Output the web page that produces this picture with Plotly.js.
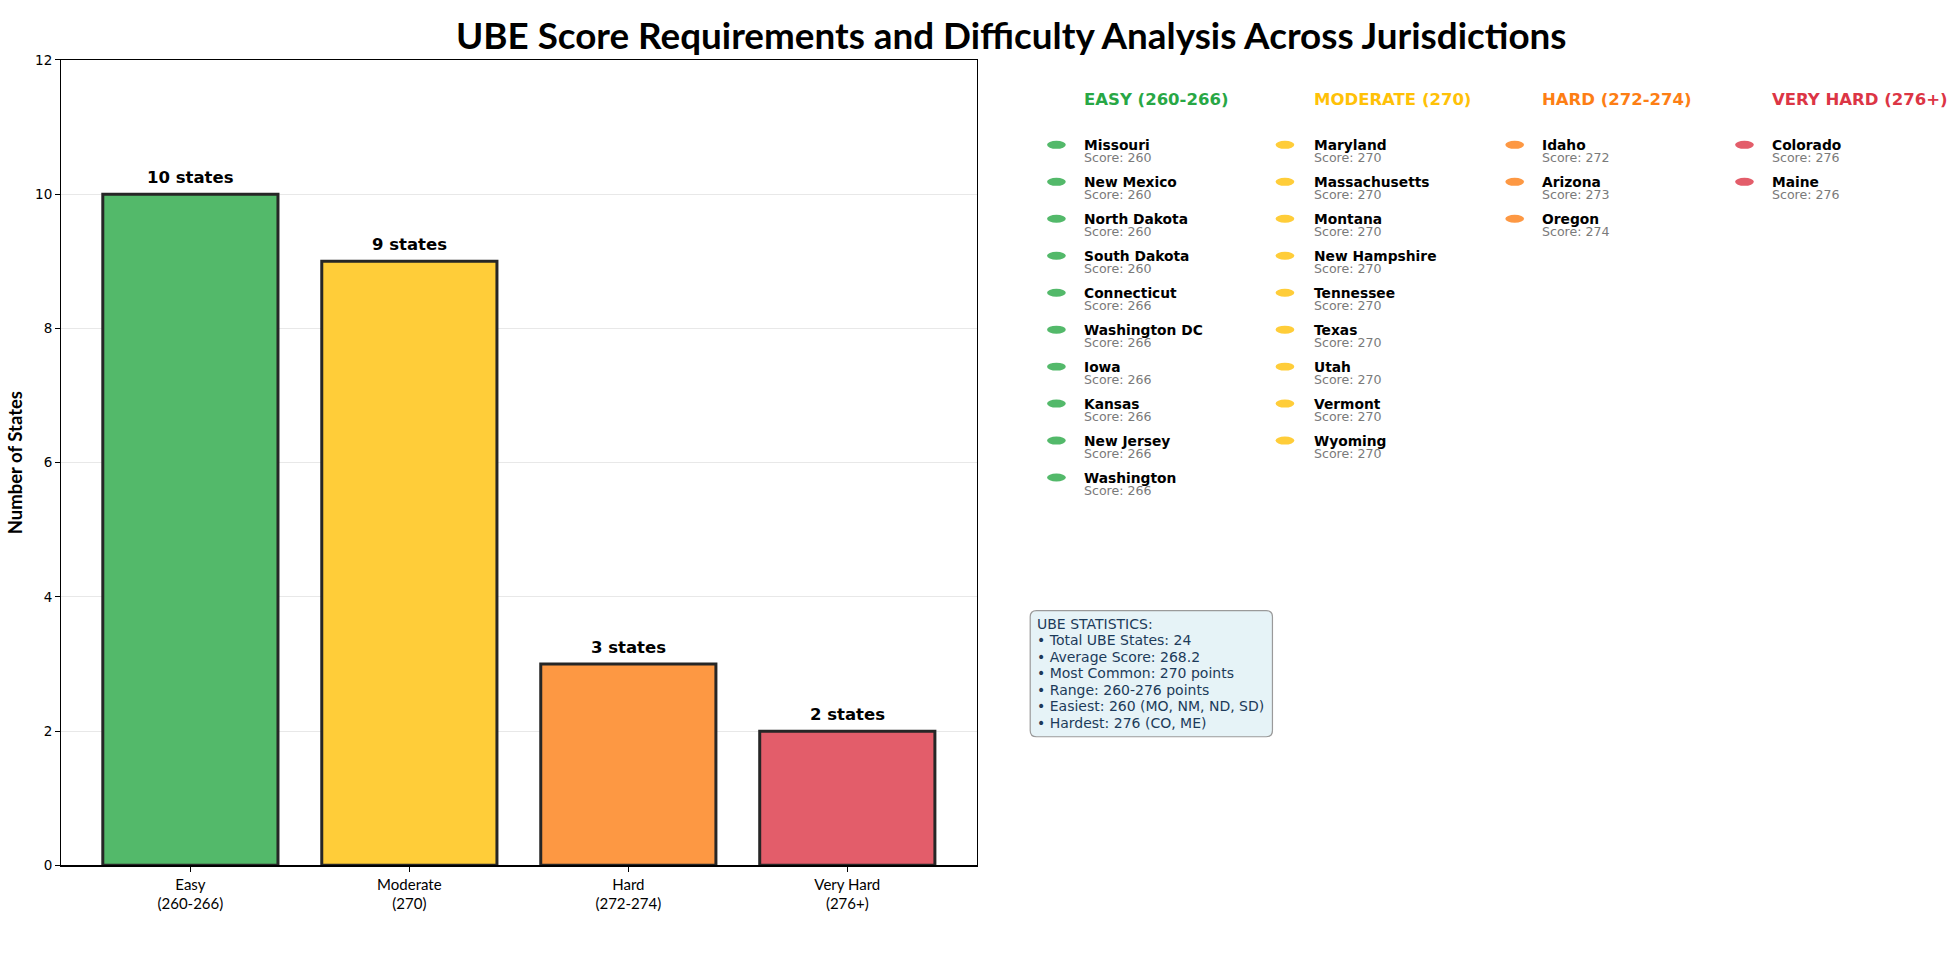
<!DOCTYPE html>
<html>
<head>
<meta charset="utf-8">
<script src="https://cdn.plot.ly/plotly-3.0.1.min.js"></script>
<style>html,body{margin:0;padding:0;background:#fff;}#chart{width:1958px;height:957px;}</style>
</head>
<body>
<div id="chart"></div>
<script>
// ---- data ----
const categoryLabels = ['Easy<br>(260-266)', 'Moderate<br>(270)', 'Hard<br>(272-274)', 'Very Hard<br>(276+)'];
const stateCounts = [10, 9, 3, 2];
const groupHeaders = ['EASY (260-266)', 'MODERATE (270)', 'HARD (272-274)', 'VERY HARD (276+)'];
const easyStates = ['Missouri', 'New Mexico', 'North Dakota', 'South Dakota', 'Connecticut', 'Washington DC', 'Iowa', 'Kansas', 'New Jersey', 'Washington'];
const easyScores = [260, 260, 260, 260, 266, 266, 266, 266, 266, 266];
const moderateStates = ['Maryland', 'Massachusetts', 'Montana', 'New Hampshire', 'Tennessee', 'Texas', 'Utah', 'Vermont', 'Wyoming'];
const moderateScores = [270, 270, 270, 270, 270, 270, 270, 270, 270];
const hardStates = ['Idaho', 'Arizona', 'Oregon'];
const hardScores = [272, 273, 274];
const veryHardStates = ['Colorado', 'Maine'];
const veryHardScores = [276, 276];
const statsLines = [
  'UBE STATISTICS:',
  '\u2022 Total UBE States: 24',
  '\u2022 Average Score: 268.2',
  '\u2022 Most Common: 270 points',
  '\u2022 Range: 260-276 points',
  '\u2022 Easiest: 260 (MO, NM, ND, SD)',
  '\u2022 Hardest: 276 (CO, ME)'
];

// ---- styles ----
const baseColors = ['#28a745', '#ffc107', '#fd7e14', '#dc3545'];
const fadedColors = ['#53b96a', '#ffcd39', '#fd9843', '#e35d6a'];
const W = 1958, H = 957;
const S = 1958 / 1568; // layout constants below are measured on a 1568-wide view
const px = x => x * S / W;
const py = y => 1 - y * S / H;

const groupStates = [easyStates, moderateStates, hardStates, veryHardStates];
const groupScores = [easyScores, moderateScores, hardScores, veryHardScores];

const trace = {
  type: 'bar',
  x: categoryLabels.map((_, i) => i),
  y: stateCounts,
  width: 0.8,
  marker: {color: fadedColors, line: {color: '#262626', width: 3}},
  hoverinfo: 'skip'
};

const annotations = [];
const shapes = [];

// bar value labels
stateCounts.forEach((v, i) => {
  annotations.push({
    xref: 'x', yref: 'y', x: i, y: v + 0.08, yanchor: 'bottom', xanchor: 'center',
    text: '<b>' + v + ' states</b>', showarrow: false,
    font: {family: 'DejaVu Sans', size: 16.5, color: '#000'}
  });
});

// title
annotations.push({
  xref: 'paper', yref: 'paper', x: px(810), y: py(28), xanchor: 'center', yanchor: 'middle',
  text: '<b>UBE Score Requirements and Difficulty Analysis Across Jurisdictions</b>', showarrow: false,
  font: {family: 'Lato', size: 36.8, color: '#000'}
});

// state lists
const colTextX = [868, 1052, 1235, 1419];
const colMarkX = [846, 1029, 1213, 1397];
const headerY = 80, firstRowY = 116, rowStep = 29.6;
groupHeaders.forEach((h, g) => {
  annotations.push({
    xref: 'paper', yref: 'paper', x: px(colTextX[g] - 1.5), y: py(headerY), xanchor: 'left', yanchor: 'middle',
    text: '<b>' + h + '</b>', showarrow: false,
    font: {family: 'DejaVu Sans', size: 16.5, color: baseColors[g]}
  });
  groupStates[g].forEach((s, i) => {
    const yc = firstRowY + i * rowStep;
    annotations.push({
      xref: 'paper', yref: 'paper', x: px(colTextX[g] - 1.5), y: py(yc), xanchor: 'left', yanchor: 'middle',
      text: '<b>' + s + '</b>', showarrow: false,
      font: {family: 'DejaVu Sans', size: 13.8, color: '#000'}
    });
    annotations.push({
      xref: 'paper', yref: 'paper', x: px(colTextX[g] - 1.5), y: py(yc + 10.5), xanchor: 'left', yanchor: 'middle',
      text: 'Score: ' + groupScores[g][i], showarrow: false,
      font: {family: 'DejaVu Sans', size: 12.6, color: '#7a7a7a'}
    });
    shapes.push({
      type: 'circle', xref: 'paper', yref: 'paper',
      x0: px(colMarkX[g] - 7.5), x1: px(colMarkX[g] + 7.5),
      y0: py(yc + 3.2), y1: py(yc - 3.2),
      fillcolor: fadedColors[g], line: {width: 0}
    });
  });
});

// stats box (rounded)
(function () {
  const x0 = 825, x1 = 1019, y0 = 489, y1 = 590, r = 5;
  const X = v => px(v), Y = v => py(v);
  const path = `M ${X(x0 + r)},${Y(y0)} L ${X(x1 - r)},${Y(y0)} Q ${X(x1)},${Y(y0)} ${X(x1)},${Y(y0 + r)} ` +
    `L ${X(x1)},${Y(y1 - r)} Q ${X(x1)},${Y(y1)} ${X(x1 - r)},${Y(y1)} L ${X(x0 + r)},${Y(y1)} ` +
    `Q ${X(x0)},${Y(y1)} ${X(x0)},${Y(y1 - r)} L ${X(x0)},${Y(y0 + r)} Q ${X(x0)},${Y(y0)} ${X(x0 + r)},${Y(y0)} Z`;
  shapes.push({type: 'path', xref: 'paper', yref: 'paper', path: path,
    fillcolor: '#e6f3f7', line: {color: '#9a9a9a', width: 1.2}, layer: 'below'});
})();
statsLines.forEach((line, i) => {
  annotations.push({
    xref: 'paper', yref: 'paper', x: px(829), y: py(499.5 + i * 13.2), xanchor: 'left', yanchor: 'middle', align: 'left',
    text: line, showarrow: false,
    font: {family: 'DejaVu Sans', size: 14, color: '#1c3b5a'}
  });
});

const layout = {
  width: W, height: H,
  margin: {l: 0, r: 0, t: 0, b: 0},
  paper_bgcolor: '#fff', plot_bgcolor: '#fff',
  showlegend: false,
  bargap: 0,
  xaxis: {
    domain: [px(49), px(782)],
    range: [-0.59, 3.59],
    tickvals: categoryLabels.map((_, i) => i),
    ticktext: categoryLabels,
    showline: true, mirror: true, linecolor: '#000', linewidth: 1.2,
    ticks: 'outside', ticklen: 5, tickcolor: '#000',
    showgrid: false, zeroline: false,
    tickfont: {family: 'Lato', size: 15, color: '#000'},
    fixedrange: true
  },
  yaxis: {
    domain: [py(693), py(48)],
    range: [0, 12], dtick: 2, tick0: 0,
    showline: true, mirror: true, linecolor: '#000', linewidth: 1.2,
    ticks: 'outside', ticklen: 5, tickcolor: '#000',
    showgrid: true, gridcolor: '#e8e8e8', gridwidth: 1.2, zeroline: false,
    tickfont: {family: 'DejaVu Sans', size: 13.5, color: '#000'},
    title: {text: '<b>Number of States</b>', font: {family: 'Lato', size: 18.5, color: '#000'}, standoff: 7},
    fixedrange: true
  },
  annotations: annotations,
  shapes: shapes
};

Plotly.newPlot('chart', [trace], layout, {displayModeBar: false, staticPlot: true});
</script>
</body>
</html>
